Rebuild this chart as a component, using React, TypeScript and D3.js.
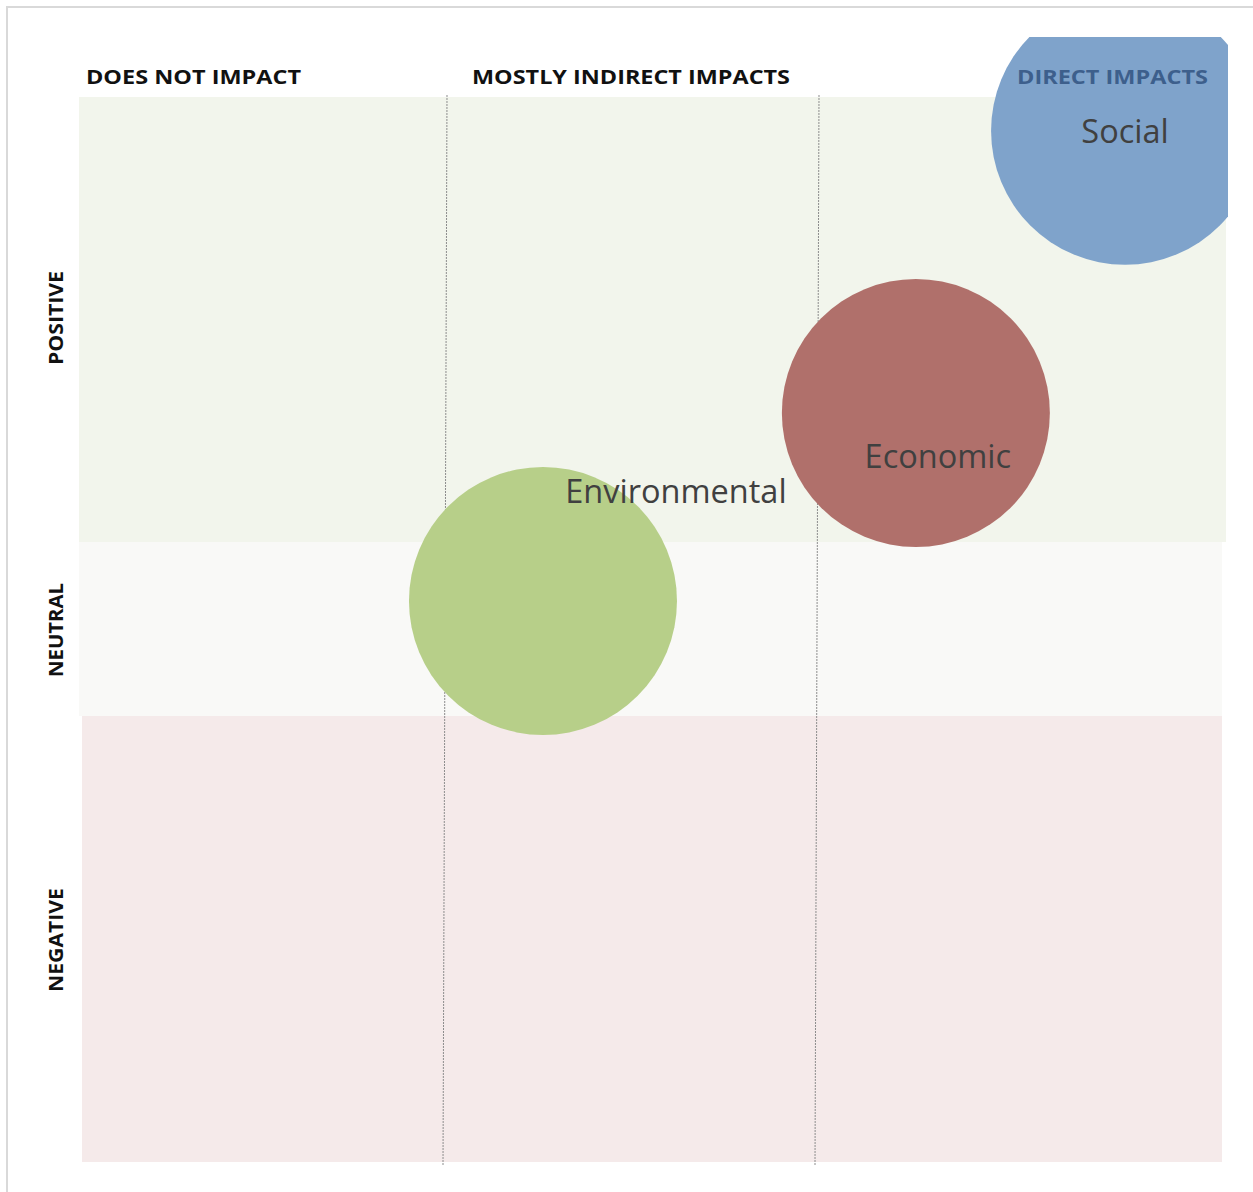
import React, { useEffect, useRef } from "react";
import * as d3 from "d3";

// impact columns (x) and effect rows (y)
const columns = ["DOES NOT IMPACT", "MOSTLY INDIRECT IMPACTS", "DIRECT IMPACTS"];
const rows = ["NEGATIVE", "NEUTRAL", "POSITIVE"];
const rowColors = ["#f5eaea", "#f9f9f7", "#f2f5ec"];

// bubbles: x in column units (0-3), y in row units (0-3)
const bubbleNames = ["Social", "Economic", "Environmental"];
const bubbleX = [2.752, 2.238, 1.258];
const bubbleY = [2.924, 2.29, 1.661];
const bubbleSize = [1, 1, 1];
const bubbleColors = ["#7fa3cb", "#b0706b", "#b7cf89"];

const App = () => {
  const ref = useRef<SVGSVGElement>(null);

  useEffect(() => {
    const svg = d3.select(ref.current);
    svg.selectAll("*").remove();

    const width = 1253;
    const height = 1192;

    const x = d3.scaleLinear().domain([0, 1, 2, 3]).range([79, 447, 819, 1226]);
    const y = d3.scaleLinear().domain([0, 1, 2, 3]).range([1162, 716, 542, 97]);
    const r = d3.scaleSqrt().domain([0, 1]).range([0, 134]);

    svg.attr("width", width).attr("height", height);

    // outer frame
    svg.append("path")
      .attr("d", `M7,${height} L7,7 L${width},7`)
      .attr("fill", "none")
      .attr("stroke", "#d9d9d9")
      .attr("stroke-width", 2);

    // header box
    svg.append("rect")
      .attr("x", 74).attr("y", 37)
      .attr("width", 1154).attr("height", 60)
      .attr("fill", "#ffffff");

    // row bands (edges are a little ragged in the source)
    const bandLeft = [82, 79, 79];
    const bandRight = [1222, 1222, 1226];
    svg.selectAll(".band")
      .data(rows)
      .enter().append("rect")
      .attr("x", (d, i) => bandLeft[i])
      .attr("y", (d, i) => y(i + 1))
      .attr("width", (d, i) => bandRight[i] - bandLeft[i])
      .attr("height", (d, i) => y(i) - y(i + 1))
      .attr("fill", (d, i) => rowColors[i]);

    // dashed column separators (slightly slanted, as in the source)
    [1, 2].forEach((c) => {
      svg.append("line")
        .attr("x1", x(c)).attr("y1", y(3) - 2)
        .attr("x2", x(c) - 4).attr("y2", y(0) + 3)
        .attr("stroke", "#8c8c8c")
        .attr("stroke-width", 1)
        .attr("stroke-dasharray", "2,1");
    });

    svg.append("clipPath").attr("id", "plotClip")
      .append("rect")
      .attr("x", 74).attr("y", 37)
      .attr("width", 1154).attr("height", 1130);

    const bubbles = svg.append("g").attr("clip-path", "url(#plotClip)");
    bubbles.selectAll("circle")
      .data(bubbleNames)
      .enter().append("circle")
      .attr("cx", (d, i) => x(bubbleX[i]))
      .attr("cy", (d, i) => y(bubbleY[i]))
      .attr("r", (d, i) => r(bubbleSize[i]))
      .attr("fill", (d, i) => bubbleColors[i]);

    // column headers
    const headerX = [86, 472, 1017];
    const headerW = [215, 318, 191];
    svg.selectAll(".colhead")
      .data(columns)
      .enter().append("text")
      .attr("x", (d, i) => headerX[i])
      .attr("y", 84)
      .attr("font-family", "'Open Sans', sans-serif")
      .attr("font-weight", "bold")
      .attr("font-size", "20px")
      .attr("textLength", (d, i) => headerW[i])
      .attr("lengthAdjust", "spacingAndGlyphs")
      .attr("fill", (d, i) => (i === 2 ? "#3d5f8c" : "#111111"))
      .text((d) => d);

    // row labels (rotated)
    const rowCenters = [940, 630, 318];
    const rowW = [104, 94, 94];
    svg.selectAll(".rowhead")
      .data(rows)
      .enter().append("text")
      .attr("transform", (d, i) => `translate(63,${rowCenters[i]}) rotate(-90)`)
      .attr("text-anchor", "middle")
      .attr("font-family", "'Open Sans', sans-serif")
      .attr("font-weight", "bold")
      .attr("font-size", "20px")
      .attr("textLength", (d, i) => rowW[i])
      .attr("lengthAdjust", "spacingAndGlyphs")
      .attr("fill", "#111111")
      .text((d) => d);

    // bubble labels
    const labelDx = [0, 22, 133];
    const labelDy = [12, 55, -98];
    svg.selectAll(".blabel")
      .data(bubbleNames)
      .enter().append("text")
      .attr("x", (d, i) => x(bubbleX[i]) + labelDx[i])
      .attr("y", (d, i) => y(bubbleY[i]) + labelDy[i])
      .attr("text-anchor", "middle")
      .attr("font-family", "'Open Sans', sans-serif")
      .attr("font-size", "32.5px")
      .attr("fill", "#404040")
      .text((d) => d);
  }, []);

  return (
    <svg
      ref={ref}
      style={{ position: "absolute", left: 0, top: 0, display: "block" }}
    ></svg>
  );
};

export default App;
